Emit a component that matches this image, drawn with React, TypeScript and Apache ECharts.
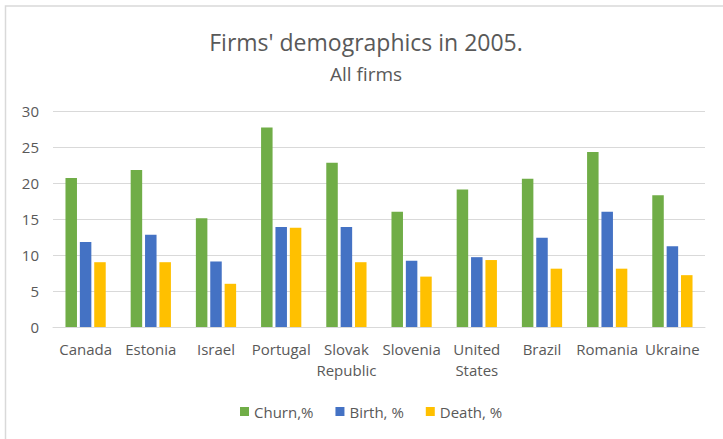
import React, { useEffect, useRef } from "react";
import * as echarts from "echarts";

const categories = [
  "Canada",
  "Estonia",
  "Israel",
  "Portugal",
  "Slovak\nRepublic",
  "Slovenia",
  "United\nStates",
  "Brazil",
  "Romania",
  "Ukraine",
];
const churn = [20.7, 21.8, 15.1, 27.7, 22.8, 16.0, 19.1, 20.6, 24.3, 18.3];
const birth = [11.8, 12.8, 9.1, 13.9, 13.9, 9.2, 9.7, 12.4, 16.0, 11.2];
const death = [9.0, 9.0, 6.0, 13.8, 9.0, 7.0, 9.3, 8.1, 8.1, 7.2];
const seriesNames = ["Churn,%", "Birth, %", "Death, %"];
const titleText = "Firms' demographics in 2005.";
const subtitleText = "All firms";

const FONT = "'Open Sans', 'Noto Sans', sans-serif";
const TEXT = "#595959";
const GRID = "#d9d9d9";

export default function App() {
  const ref = useRef<HTMLDivElement>(null);
  useEffect(() => {
    if (!ref.current) return;
    const chart = echarts.init(ref.current, undefined, { renderer: "svg" });
    const mk = (name: string, data: number[], color: string) => ({
      name,
      type: "bar",
      data,
      barWidth: 11.5,
      barGap: "25%",
      itemStyle: { color },
    });
    chart.setOption({
      animation: false,
      backgroundColor: "#ffffff",
      textStyle: { fontFamily: FONT },
      graphic: [
        {
          type: "rect",
          shape: { x: 5.5, y: 6, width: 800, height: 600 },
          style: { fill: "none", stroke: GRID, lineWidth: 1.5 },
          silent: true,
        },
        {
          type: "text",
          x: 366,
          y: 42,
          style: {
            text: titleText,
            fontFamily: FONT,
            fontSize: 23,
            fill: TEXT,
            textAlign: "center",
            textVerticalAlign: "middle",
          },
        },
        {
          type: "text",
          x: 366,
          y: 74,
          style: {
            text: subtitleText,
            fontFamily: FONT,
            fontSize: 19,
            fill: TEXT,
            textAlign: "center",
            textVerticalAlign: "middle",
          },
        },
      ],
      legend: {
        data: seriesNames,
        left: 235,
        top: 399,
        itemWidth: 9,
        itemHeight: 9,
        itemGap: 22,
        icon: "rect",
        textStyle: { color: TEXT, fontSize: 15, fontFamily: FONT },
      },
      grid: { left: 53, right: 18, top: 111, bottom: 112 },
      xAxis: {
        type: "category",
        data: categories,
        axisLine: { lineStyle: { color: GRID, width: 1 } },
        axisTick: { show: false },
        axisLabel: {
          color: TEXT,
          fontSize: 15,
          fontFamily: FONT,
          lineHeight: 21,
          margin: 11,
          interval: 0,
        },
      },
      yAxis: {
        type: "value",
        min: 0,
        max: 30,
        interval: 5,
        axisLine: { show: false },
        axisTick: { show: false },
        splitLine: { lineStyle: { color: GRID, width: 1 } },
        axisLabel: { color: TEXT, fontSize: 15, fontFamily: FONT, margin: 14 },
      },
      series: [
        mk(seriesNames[0], churn, "#70ad47"),
        mk(seriesNames[1], birth, "#4472c4"),
        mk(seriesNames[2], death, "#ffc000"),
      ],
    });
    return () => chart.dispose();
  }, []);
  return (
    <div
      ref={ref}
      style={{ position: "fixed", left: 0, top: 0, width: 723, height: 439 }}
    />
  );
}
